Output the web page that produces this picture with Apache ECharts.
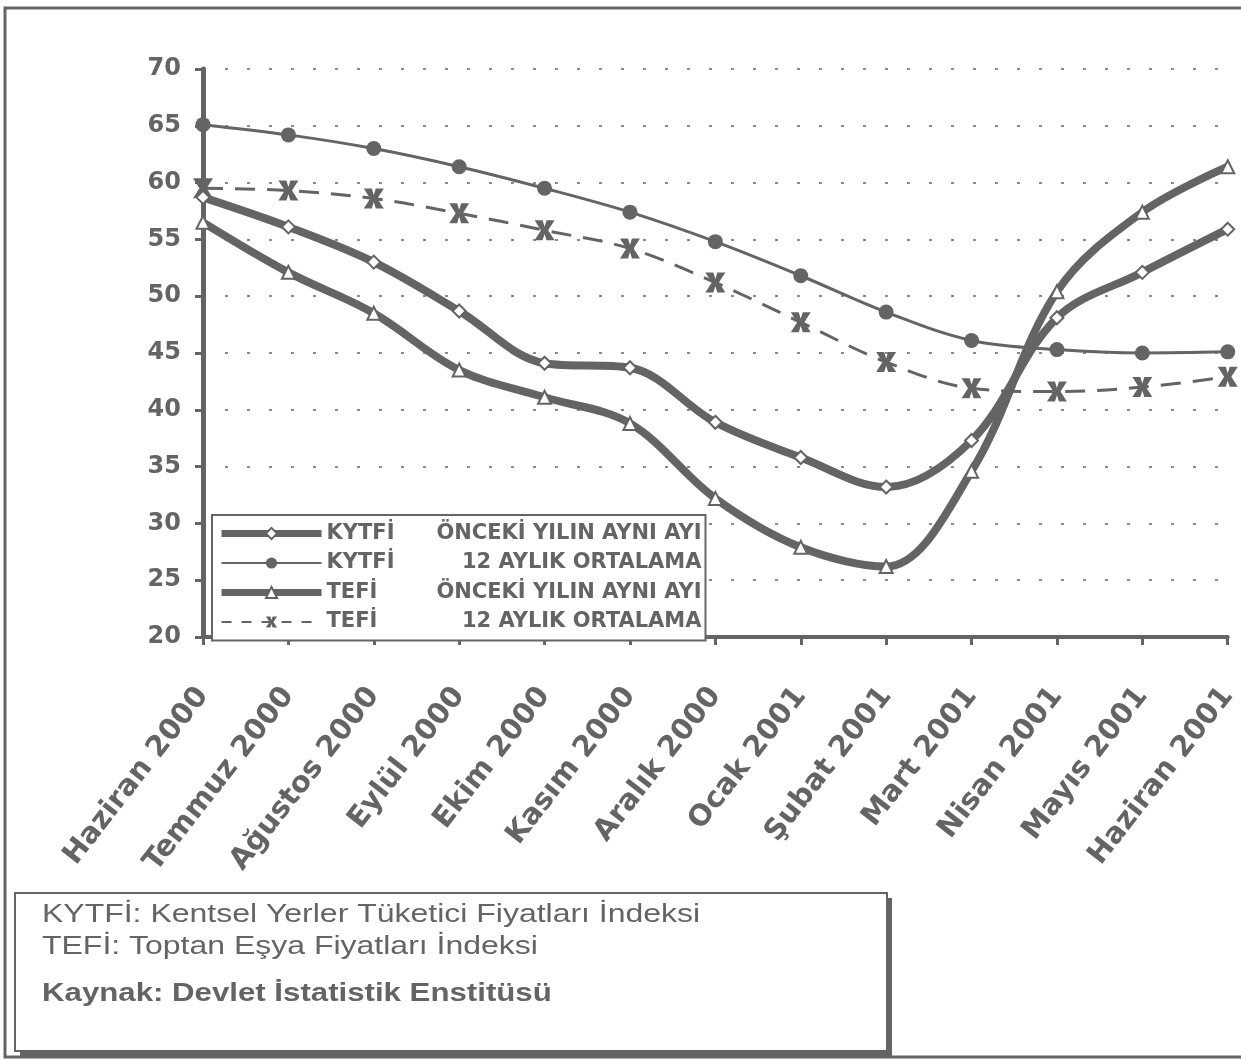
<!DOCTYPE html>
<html>
<head>
<meta charset="utf-8">
<script src="https://cdn.jsdelivr.net/npm/echarts@6/dist/echarts.min.js"></script>
<style>
  html, body { margin: 0; padding: 0; background: #fff; }
  #chart { width: 1241px; height: 1060px; }
</style>
</head>
<body>
<div id="chart"></div>
<script>
// Months on the category axis
const months = ['Haziran 2000', 'Temmuz 2000', 'Ağustos 2000', 'Eylül 2000', 'Ekim 2000', 'Kasım 2000',
  'Aralık 2000', 'Ocak 2001', 'Şubat 2001', 'Mart 2001', 'Nisan 2001', 'Mayıs 2001', 'Haziran 2001'];

// Annual inflation, %
const kytfiAnnual = [58.7, 56.1, 53.0, 48.7, 44.1, 43.7, 38.9, 35.8, 33.2, 37.3, 48.1, 52.1, 55.9];
const kytfiAvg12  = [65.1, 64.2, 63.0, 61.4, 59.5, 57.4, 54.8, 51.8, 48.6, 46.1, 45.3, 45.0, 45.1];
const tefiAnnual  = [56.5, 52.1, 48.5, 43.5, 41.1, 38.8, 32.2, 27.9, 26.2, 34.6, 50.4, 57.4, 61.4];
const tefiAvg12   = [59.5, 59.3, 58.6, 57.3, 55.8, 54.2, 51.2, 47.7, 44.2, 41.9, 41.6, 42.0, 42.9];

// Value axis range
const yMin = 20, yMax = 70, yStep = 5;

// Legend labels: index code + description
const seriesCodes = ['KYTFİ', 'KYTFİ', 'TEFİ', 'TEFİ'];
const seriesDescs = ['ÖNCEKİ YILIN AYNI AYI', '12 AYLIK ORTALAMA', 'ÖNCEKİ YILIN AYNI AYI', '12 AYLIK ORTALAMA'];

// Footnote lines
const noteLines = ['KYTFİ: Kentsel Yerler Tüketici Fiyatları İndeksi', 'TEFİ: Toptan Eşya Fiyatları İndeksi'];
const sourceLine = 'Kaynak: Devlet İstatistik Enstitüsü';

const INK = '#646464';
const names = seriesCodes.map((c, i) => c + ' ' + seriesDescs[i]);
const starPath = 'path://M0,0 L4,0 L5,3.2 L6,0 L10,0 L6.8,5 L10,10 L6,10 L5,6.8 L4,10 L0,10 L3.2,5 Z';

const chart = echarts.init(document.getElementById('chart'), null, { renderer: 'canvas' });

const option = {
  backgroundColor: '#fff',
  animation: false,
  grid: { left: 203, right: 6, top: 69, bottom: 423, containLabel: false },
  xAxis: {
    type: 'category',
    data: months,
    boundaryGap: false,
    axisLine: { show: true, lineStyle: { color: INK, width: 4 } },
    axisTick: { show: true, length: 8, lineStyle: { color: INK, width: 3 } },
    axisLabel: {
      rotate: 52, margin: 54, interval: 0,
      color: INK, fontFamily: 'DejaVu Sans', fontWeight: 'bold', fontSize: 29
    },
    splitLine: { show: false }
  },
  yAxis: {
    type: 'value',
    min: yMin, max: yMax, interval: yStep,
    axisLine: { show: true, lineStyle: { color: INK, width: 5 } },
    axisTick: { show: true, length: 8, lineStyle: { color: INK, width: 3 } },
    axisLabel: {
      margin: 22, color: INK, fontFamily: 'DejaVu Sans', fontWeight: 'bold', fontSize: 24
    },
    splitLine: { show: true, lineStyle: { color: INK, width: 1.5, type: [3, 19] } }
  },
  legend: {
    orient: 'vertical',
    left: 212, top: 515,
    padding: [8, 4, 8, 6],
    itemWidth: 100, itemHeight: 14, itemGap: 8.5,
    backgroundColor: '#fff',
    borderColor: INK, borderWidth: 2,
    selectedMode: false,
    data: [
      { name: names[0], lineStyle: { width: 7, color: INK }, itemStyle: { color: '#fff', borderColor: INK, borderWidth: 2 } },
      { name: names[1], lineStyle: { width: 2, color: INK }, itemStyle: { color: INK, borderWidth: 0 } },
      { name: names[2], lineStyle: { width: 7, color: INK }, itemStyle: { color: '#fff', borderColor: INK, borderWidth: 2 } },
      { name: names[3], lineStyle: { width: 2, color: INK, type: [10, 10] }, itemStyle: { color: INK, borderWidth: 0 } }
    ],
    formatter: function (name) {
      const i = names.indexOf(name);
      return '{a|' + seriesCodes[i] + '}{b|' + seriesDescs[i] + '}';
    },
    textStyle: {
      color: INK, fontFamily: 'DejaVu Sans', fontWeight: 'bold', fontSize: 21,
      rich: {
        a: { width: 112, fontFamily: 'DejaVu Sans', fontWeight: 'bold', fontSize: 21, color: INK, lineHeight: 20 },
        b: { width: 263, align: 'right', fontFamily: 'DejaVu Sans', fontWeight: 'bold', fontSize: 21, color: INK, lineHeight: 20 }
      }
    }
  },
  series: [
    {
      name: names[1], type: 'line', data: kytfiAvg12, smooth: 0.35, clip: false,
      symbol: 'circle', symbolSize: 15,
      lineStyle: { color: INK, width: 3 },
      itemStyle: { color: INK, borderWidth: 0 },
      z: 2
    },
    {
      name: names[3], type: 'line', data: tefiAvg12, smooth: 0.35, clip: false,
      symbol: starPath, symbolSize: 20,
      lineStyle: { color: INK, width: 3, type: [20, 12] },
      itemStyle: { color: INK, borderWidth: 0 },
      z: 2
    },
    {
      name: names[0], type: 'line', data: kytfiAnnual, smooth: 0.35, clip: false,
      symbol: 'diamond', symbolSize: 13,
      lineStyle: { color: INK, width: 8 },
      itemStyle: { color: '#fff', borderColor: INK, borderWidth: 2 },
      z: 3
    },
    {
      name: names[2], type: 'line', data: tefiAnnual, smooth: 0.35, clip: false,
      symbol: 'triangle', symbolSize: 13,
      lineStyle: { color: INK, width: 8 },
      itemStyle: { color: '#fff', borderColor: INK, borderWidth: 2 },
      z: 3
    }
  ],
  graphic: [
    {
      type: 'rect', silent: true, z: -10,
      shape: { x: 5, y: 8, width: 1260, height: 1049 },
      style: { fill: null, stroke: INK, lineWidth: 3 }
    },
    {
      type: 'group', z: 100,
      children: [
        {
          // drop shadow of the note box
          type: 'rect', silent: true,
          shape: { x: 20, y: 898, width: 872, height: 158 },
          style: { fill: INK }
        },
        {
          type: 'rect', silent: true,
          shape: { x: 15, y: 893, width: 872, height: 158 },
          style: { fill: '#fff', stroke: INK, lineWidth: 2 }
        },
        {
          type: 'text', silent: true, x: 42, y: 915, scaleX: 1.23,
          style: { text: noteLines[0], fill: INK, font: '26px "Liberation Sans"', verticalAlign: 'middle' }
        },
        {
          type: 'text', silent: true, x: 42, y: 947, scaleX: 1.23,
          style: { text: noteLines[1], fill: INK, font: '26px "Liberation Sans"', verticalAlign: 'middle' }
        },
        {
          type: 'text', silent: true, x: 42, y: 994, scaleX: 1.2,
          style: { text: sourceLine, fill: INK, font: 'bold 26px "Liberation Sans"', verticalAlign: 'middle' }
        }
      ]
    }
  ]
};

chart.setOption(option);
</script>
</body>
</html>
